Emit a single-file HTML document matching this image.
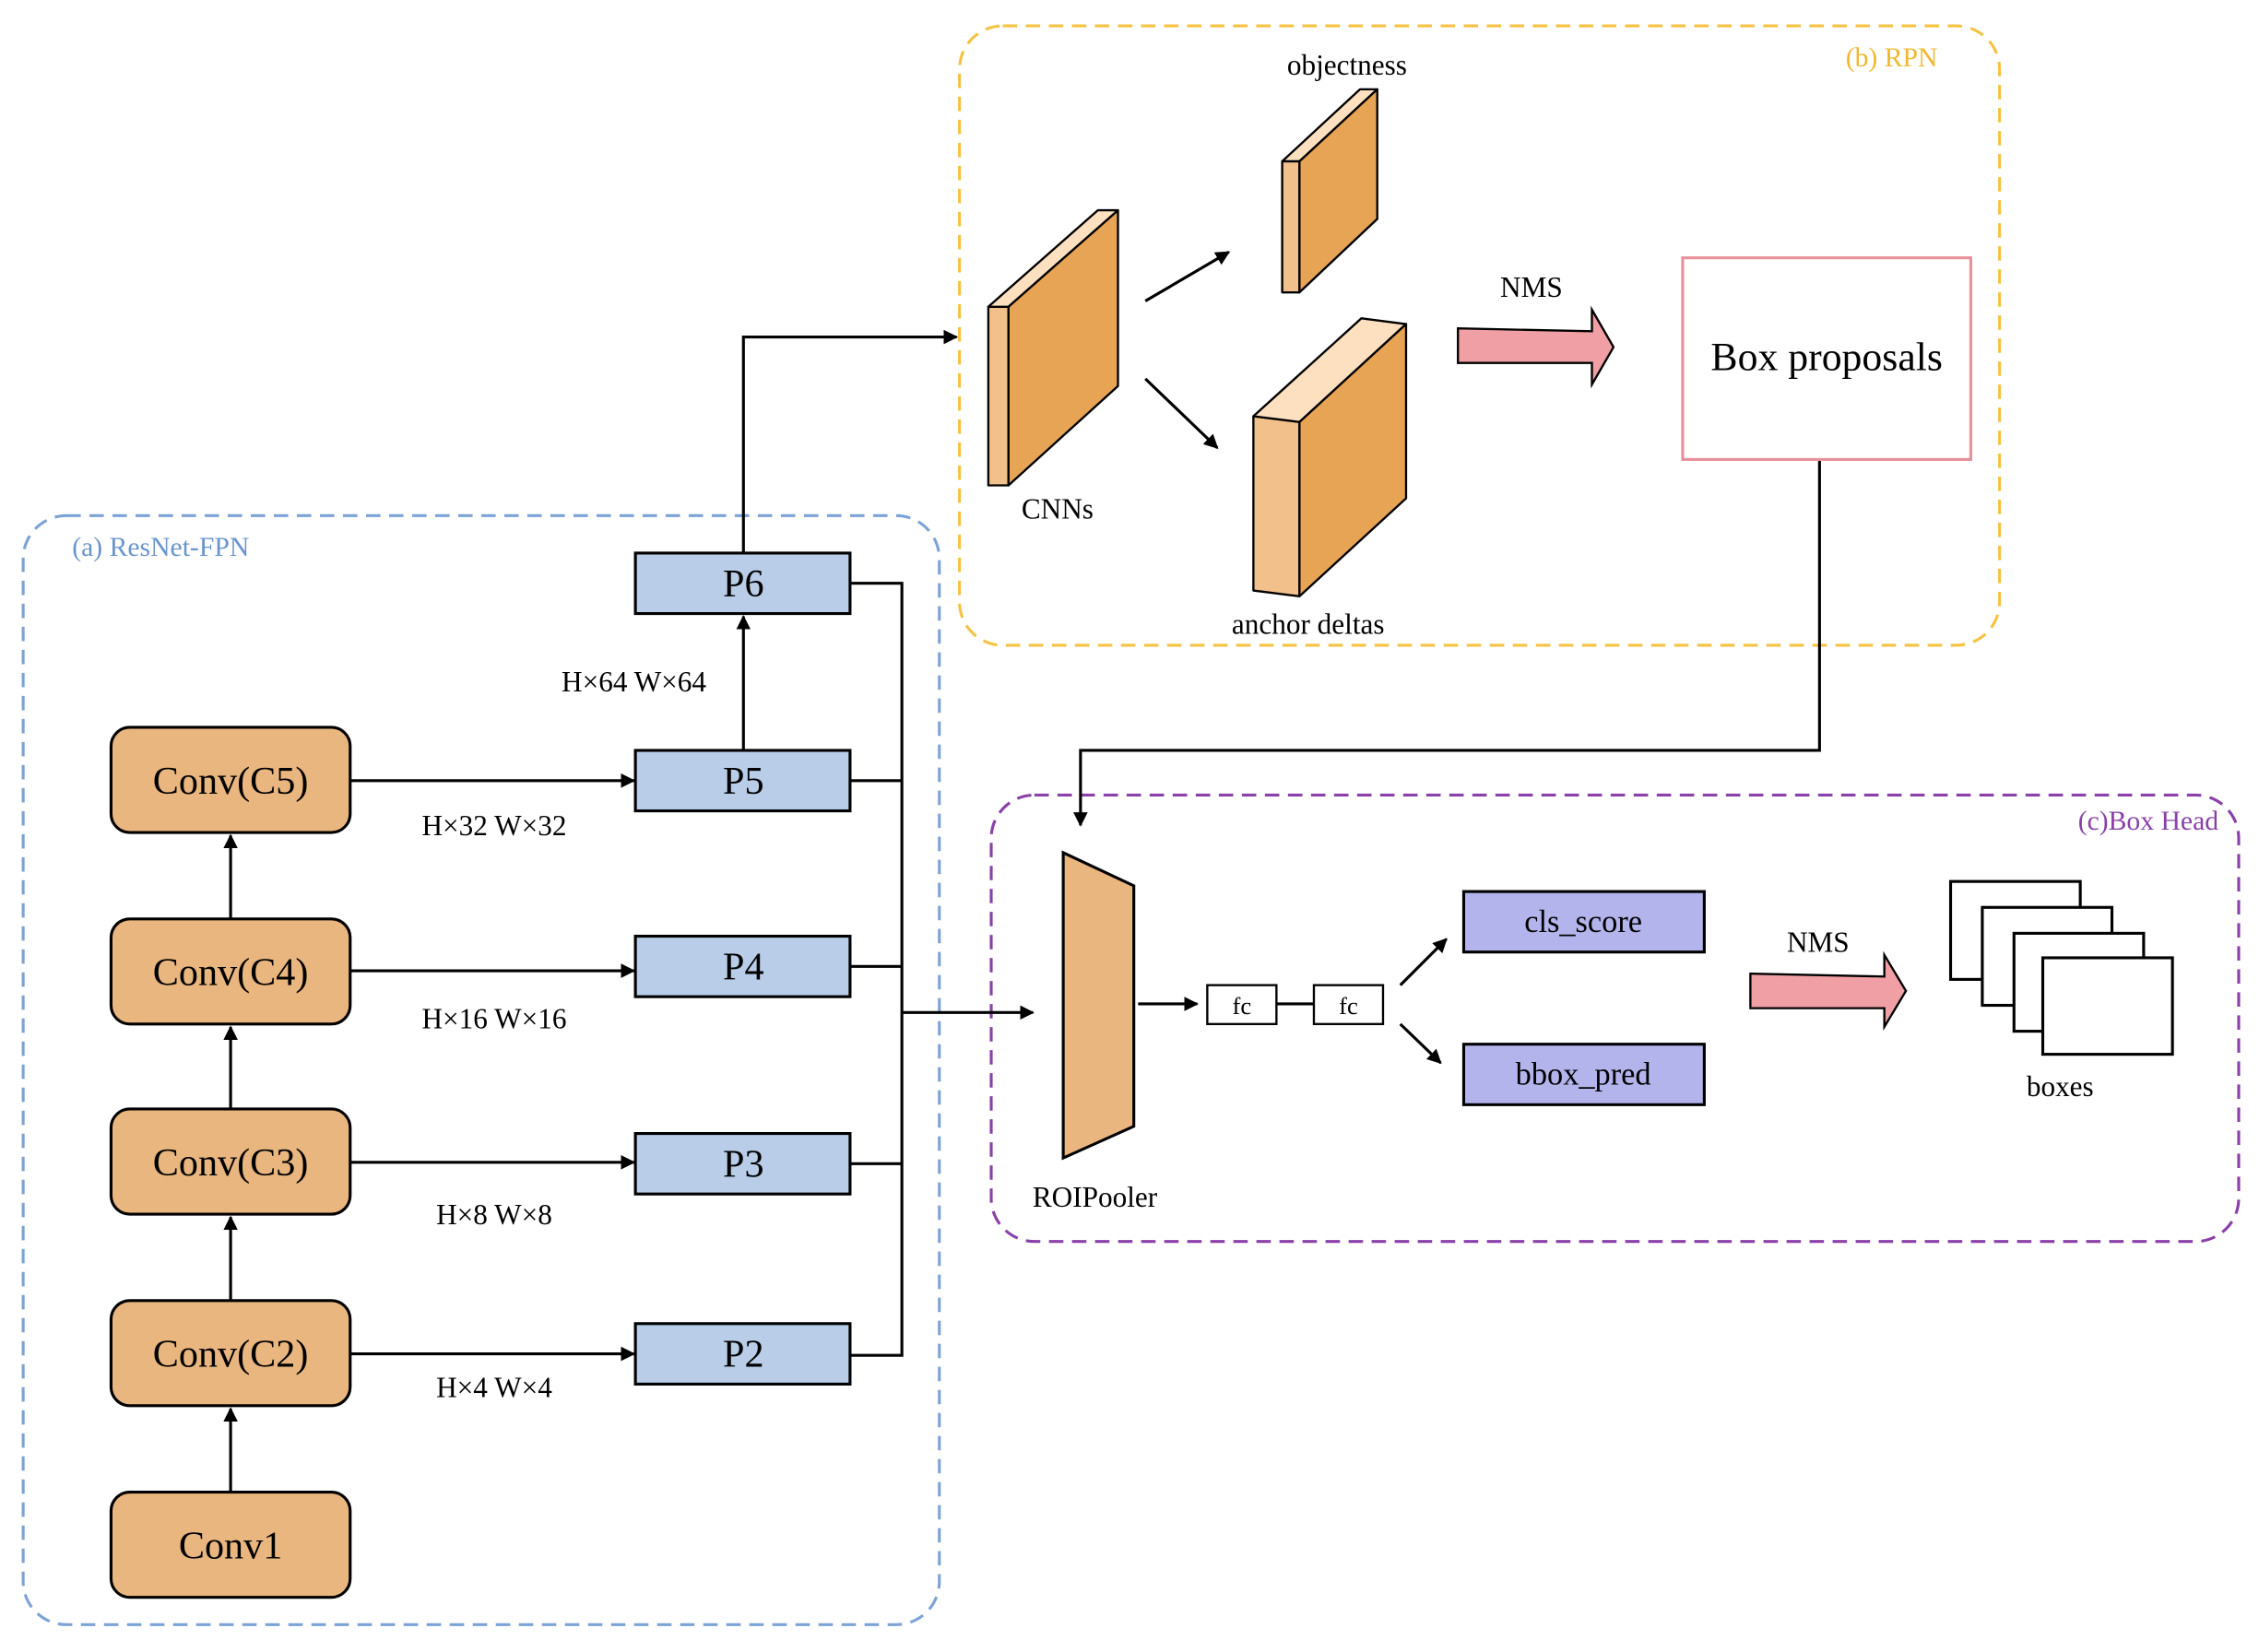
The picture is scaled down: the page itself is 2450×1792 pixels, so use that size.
<!DOCTYPE html>
<html><head><meta charset="utf-8"><style>html,body{margin:0;padding:0;background:#fff}svg{display:block}</style></head>
<body>
<svg width="2450" height="1792" viewBox="0 0 1568 1147" xmlns="http://www.w3.org/2000/svg" font-family="Liberation Serif, serif">
<defs>
<marker id="a" markerWidth="10" markerHeight="10" refX="9" refY="5" orient="auto" markerUnits="userSpaceOnUse"><path d="M0,0 L10,5 L0,10 z" fill="#000"/></marker>
</defs>
<rect width="1568" height="1147" fill="#fff"/>
<!-- group boxes -->
<rect x="16" y="358" width="636" height="770" rx="30" fill="none" stroke="#7ba3d6" stroke-width="2" stroke-dasharray="10,6"/>
<text x="50" y="386" font-size="19" fill="#6a95cc">(a) ResNet-FPN</text>
<rect x="666" y="18" width="722" height="430" rx="30" fill="none" stroke="#f5c242" stroke-width="2" stroke-dasharray="10,6"/>
<text x="1345" y="46" font-size="19" fill="#f0b830" text-anchor="end">(b) RPN</text>
<rect x="688" y="552" width="866" height="310" rx="30" fill="none" stroke="#8a40a8" stroke-width="2" stroke-dasharray="10,6"/>
<text x="1540" y="576" font-size="19" fill="#8a40a8" text-anchor="end">(c)Box Head</text>

<!-- conv boxes -->
<g fill="#eab67f" stroke="#000" stroke-width="2">
<rect x="77" y="505" width="166" height="73" rx="13"/>
<rect x="77" y="638" width="166" height="73" rx="13"/>
<rect x="77" y="770" width="166" height="73" rx="13"/>
<rect x="77" y="903" width="166" height="73" rx="13"/>
<rect x="77" y="1036" width="166" height="73" rx="13"/>
</g>
<g font-size="27" text-anchor="middle">
<text x="160" y="551">Conv(C5)</text>
<text x="160" y="684">Conv(C4)</text>
<text x="160" y="816">Conv(C3)</text>
<text x="160" y="949">Conv(C2)</text>
<text x="160" y="1082">Conv1</text>
</g>
<g stroke="#000" stroke-width="2" marker-end="url(#a)">
<line x1="160" y1="1036" x2="160" y2="978"/>
<line x1="160" y1="903" x2="160" y2="845"/>
<line x1="160" y1="770" x2="160" y2="713"/>
<line x1="160" y1="638" x2="160" y2="580"/>
<line x1="243" y1="542" x2="440" y2="542"/>
<line x1="243" y1="674" x2="440" y2="674"/>
<line x1="243" y1="807" x2="440" y2="807"/>
<line x1="243" y1="940" x2="440" y2="940"/>
<line x1="516" y1="521" x2="516" y2="428"/>
</g>
<g font-size="20" text-anchor="middle">
<text x="343" y="580">H×32 W×32</text>
<text x="343" y="714">H×16 W×16</text>
<text x="343" y="850">H×8 W×8</text>
<text x="343" y="970">H×4 W×4</text>
<text x="440" y="480">H×64 W×64</text>
</g>
<!-- P boxes -->
<g fill="#b9cde8" stroke="#000" stroke-width="2">
<rect x="441" y="384" width="149" height="42"/>
<rect x="441" y="521" width="149" height="42"/>
<rect x="441" y="650" width="149" height="42"/>
<rect x="441" y="787" width="149" height="42"/>
<rect x="441" y="919" width="149" height="42"/>
</g>
<g font-size="27" text-anchor="middle">
<text x="516" y="414">P6</text>
<text x="516" y="551">P5</text>
<text x="516" y="680">P4</text>
<text x="516" y="817">P3</text>
<text x="516" y="949">P2</text>
</g>
<g stroke="#000" stroke-width="2" fill="none">
<polyline points="590,405 626,405 626,941 590,941"/>
<line x1="590" y1="542" x2="626" y2="542"/>
<line x1="590" y1="671" x2="626" y2="671"/>
<line x1="590" y1="808" x2="626" y2="808"/>
<line x1="626" y1="703" x2="717" y2="703" marker-end="url(#a)"/>
<polyline points="516,384 516,234 664,234" marker-end="url(#a)"/>
<polyline points="1263,320 1263,521 750,521 750,573" marker-end="url(#a)"/>
<line x1="795" y1="209" x2="853" y2="175" marker-end="url(#a)"/>
<line x1="795" y1="263" x2="845" y2="311" marker-end="url(#a)"/>
<line x1="790" y1="697" x2="831" y2="697" marker-end="url(#a)"/>
<line x1="886" y1="697" x2="912" y2="697"/>
<line x1="972" y1="684" x2="1004" y2="652" marker-end="url(#a)"/>
<line x1="972" y1="711" x2="1000" y2="738" marker-end="url(#a)"/>
</g>
<!-- cuboids -->
<g stroke="#000" stroke-width="1.5" stroke-linejoin="round">
<polygon points="686,213 700,213 700,337 686,337" fill="#f2c08a"/>
<polygon points="686,213 762,146 776,146 700,213" fill="#fde0c0"/>
<polygon points="700,213 776,146 776,268 700,337" fill="#e8a455"/>
<polygon points="890,112 902,112 902,203 890,203" fill="#f2c08a"/>
<polygon points="890,112 944,62 956,62 902,112" fill="#fde0c0"/>
<polygon points="902,112 956,62 956,152 902,203" fill="#e8a455"/>
<polygon points="870,289 902,293 902,414 870,410" fill="#f2c08a"/>
<polygon points="870,289 945,221 976,225 902,293" fill="#fde0c0"/>
<polygon points="902,293 976,225 976,346 902,414" fill="#e8a455"/>
</g>
<g font-size="20" text-anchor="middle">
<text x="734" y="360">CNNs</text>
<text x="935" y="52">objectness</text>
<text x="908" y="440">anchor deltas</text>
<text x="1063" y="206">NMS</text>
<text x="1262" y="661">NMS</text>
<text x="760" y="838">ROIPooler</text>
<text x="1430" y="761">boxes</text>
</g>
<!-- NMS arrows -->
<polygon points="1012,228 1105,230 1105,215 1120,241 1105,267 1105,252 1012,252" fill="#f0a0a4" stroke="#000" stroke-width="1.5"/>
<polygon points="1215,676 1308,678 1308,663 1323,688 1308,713 1308,700 1215,700" fill="#f0a0a4" stroke="#000" stroke-width="1.5"/>
<!-- box proposals -->
<rect x="1168" y="179" width="200" height="140" fill="#fff" stroke="#e8909c" stroke-width="2"/>
<text x="1268" y="257" font-size="28" text-anchor="middle">Box proposals</text>
<!-- ROI pooler -->
<polygon points="738,592 787,615 787,782 738,804" fill="#eab67f" stroke="#000" stroke-width="2"/>
<g fill="#fff" stroke="#000" stroke-width="1.5">
<rect x="838" y="684" width="48" height="27"/>
<rect x="912" y="684" width="48" height="27"/>
</g>
<text x="862" y="704" font-size="17" text-anchor="middle">fc</text>
<text x="936" y="704" font-size="17" text-anchor="middle">fc</text>
<g fill="#b4b4ec" stroke="#000" stroke-width="2">
<rect x="1016" y="619" width="167" height="42"/>
<rect x="1016" y="725" width="167" height="42"/>
</g>
<text x="1099" y="647" font-size="22" text-anchor="middle">cls_score</text>
<text x="1099" y="753" font-size="22" text-anchor="middle">bbox_pred</text>
<g fill="#fff" stroke="#000" stroke-width="2">
<rect x="1354" y="612" width="90" height="68"/>
<rect x="1376" y="630" width="90" height="68"/>
<rect x="1398" y="648" width="90" height="68"/>
<rect x="1418" y="665" width="90" height="67"/>
</g>
</svg>
</body></html>
